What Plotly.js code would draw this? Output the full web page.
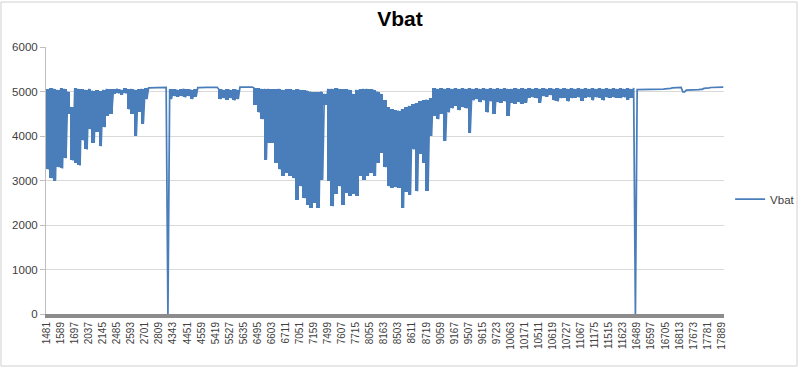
<!DOCTYPE html>
<html>
<head>
<meta charset="utf-8">
<script src="https://cdn.plot.ly/plotly-3.0.1.min.js"></script>
<style>
html,body{margin:0;padding:0;background:#fff;}
#chart{width:800px;height:369px;}
</style>
</head>
<body>
<div id="chart"></div>
<script>
// Category tick labels (every 108th category)
const tickLabels = ["1481","1589","1697","2037","2145","2485","2593","2701","2809","4343","4451","4559","5419","5527","5635","6495","6603","6711","7051","7159","7499","7607","7715","8055","8163","8503","8611","8719","9059","9167","9507","9615","9723","10063","10171","10511","10619","10727","11067","11175","11515","11623","16489","16597","16705","16813","17673","17781","17889"];
const labelStep = 108;     // categories between tick labels
const sampleStep = 27;     // categories between read samples

// Upper envelope of Vbat per sample
const vbatHigh = [
5050,5070,5060,5040,5070,5060,5000,4650,5070,5060,
5050,5040,5060,5020,5030,5010,5040,5060,5050,5050,
5060,5040,5070,5050,5060,5040,5050,5060,5070,5080,
5090,5090,5090,5090,5090,5050,5050,5040,5050,5060,
5050,5040,5050,5090,5095,5095,5095,5095,5095,5050,
5040,5050,5040,5050,5040,5100,5100,5100,5100,5080,
5070,5060,5060,5060,5050,5050,5060,5040,5050,5050,
5040,5050,5040,5030,5020,5000,4980,4990,5000,4950,
5060,5060,5070,5060,5050,5050,5040,4950,5040,5050,
5060,5060,5050,5040,5000,4950,4800,4650,4600,4580,
4570,4600,4650,4680,4720,4740,4780,4800,4820,4850,
5070,5060,5070,5060,5070,5060,5070,5060,5070,5060,
5070,5060,5070,5060,5070,5060,5070,5060,5070,5060,
5070,5060,5060,5070,5060,5070,5060,5070,5060,5070,
5060,5070,5060,5070,5060,5070,5060,5070,5060,5070,
5060,5070,5060,5070,5060,5070,5060,5070,5060,5070,
5060,5070,5060,5070,5060,5070,5060,5080,5040,5040,
5040,5045,5045,5050,5050,5055,5060,5070,5080,5090,
5090,4990,5030,5030,5035,5040,5050,5070,5080,5090,
5095,5100,5100];

// Lower envelope of Vbat per sample; 0 = dropout
const vbatLow = [
3250,3050,3000,3300,3270,3500,4500,3450,3400,3340,
3900,3700,4150,3850,4100,3770,4200,4450,4500,4950,
4960,4930,4960,4600,4500,4000,4550,4280,4830,5080,
5090,5090,5090,5090,0,4830,4900,4880,4900,4870,
4900,4830,4880,5090,5095,5095,5095,5095,5095,4830,
4850,4820,4850,4800,4830,5100,5100,5100,5100,4700,
4530,4380,3470,3850,3850,3400,3250,3100,3170,3100,
3050,2570,2870,2600,2450,2380,2500,2380,3020,4700,
3000,2420,2700,2870,2450,2720,2650,2700,2650,3100,
3020,3100,3170,3100,3400,3620,3300,2870,2830,2850,
2830,2380,2750,2680,3700,2760,3600,3400,2770,4000,
4450,4380,4500,3890,4530,4620,4680,4580,4650,4620,
4070,4800,4830,4760,4800,4530,4780,4500,4760,4750,
4780,4450,4750,4730,4760,4720,4750,4860,4870,4850,
4750,4900,4880,4920,4800,4780,4850,4860,4780,4850,
4860,4870,4790,4860,4870,4800,4870,4860,4800,4870,
4860,4870,4860,4850,4870,4810,4860,0,5040,5040,
5040,5045,5045,5050,5050,5055,5060,5070,5080,5090,
5090,4990,5030,5030,5035,5040,5050,5070,5080,5090,
5095,5100,5100];

const COLOR = '#4a7ebb';

// Dense oscillating series: high then low within each sample step
const xs = [], ys = [];
for (let i = 0; i < vbatHigh.length; i++) {
  xs.push(i * sampleStep);                ys.push(vbatHigh[i]);
  xs.push(i * sampleStep + sampleStep/2); ys.push(vbatLow[i]);
}

// Solid band between envelopes (dropouts are drawn by the line only)
const bandX = [], bandBase = [], bandLen = [];
for (let i = 0; i < vbatHigh.length; i++) {
  const lo = vbatLow[i] === 0 ? vbatHigh[i] : vbatLow[i];
  bandX.push(i * sampleStep + sampleStep/4);
  bandBase.push(lo);
  bandLen.push(vbatHigh[i] - lo);
}

const tickVals = tickLabels.map((_, k) => k * labelStep);

const band = {
  x: bandX, y: bandLen, base: bandBase, type: 'bar', width: sampleStep,
  marker: {color: COLOR, line: {width: 0}}, showlegend: false, hoverinfo: 'skip'
};
const trace = {
  x: xs, y: ys, type: 'scatter', mode: 'lines', name: 'Vbat',
  line: {color: COLOR, width: 1.75}, hoverinfo: 'skip'
};

const layout = {
  width: 800, height: 369,
  margin: {l: 46, r: 76, t: 47, b: 55, autoexpand: false},
  paper_bgcolor: '#ffffff', plot_bgcolor: '#ffffff',
  font: {family: 'Liberation Sans, Arial, sans-serif', color: '#404040'},
  barmode: 'overlay', bargap: 0,
  title: {text: '<b>Vbat</b>', x: 0.5, xanchor: 'center', y: 0.95, yanchor: 'middle',
          font: {size: 21, color: '#000000', family: 'Liberation Sans, Arial, sans-serif'}},
  xaxis: {
    type: 'linear', range: [-5, 5203],
    tickmode: 'array', tickvals: tickVals, ticktext: tickLabels,
    tickangle: -90, tickfont: {size: 10, color: '#404040'},
    showgrid: false, zeroline: false,
    showline: true, linecolor: '#8c8c8c', linewidth: 4,
    ticks: '', fixedrange: true
  },
  yaxis: {
    range: [0, 6000], dtick: 1000, tick0: 0,
    tickfont: {size: 11.5, color: '#404040'},
    showgrid: true, gridcolor: '#d9d9d9', gridwidth: 1,
    zeroline: false, showline: true, linecolor: '#bfbfbf', linewidth: 1,
    ticks: 'outside', ticklen: 5, tickcolor: '#bfbfbf', fixedrange: true
  },
  showlegend: true,
  legend: {x: 1.009, xanchor: 'left', y: 0.43, yanchor: 'middle',
           font: {size: 11.5, color: '#404040'}, bgcolor: 'rgba(0,0,0,0)'},
  shapes: [{
    type: 'rect', xref: 'paper', yref: 'paper',
    x0: -0.0664, x1: 1.1077, y0: -0.1948, y1: 1.1685,
    line: {color: '#d0d0d0', width: 1}, fillcolor: 'rgba(0,0,0,0)', layer: 'below'
  }]
};

Plotly.newPlot('chart', [band, trace], layout, {displayModeBar: false, staticPlot: true});
</script>
</body>
</html>
